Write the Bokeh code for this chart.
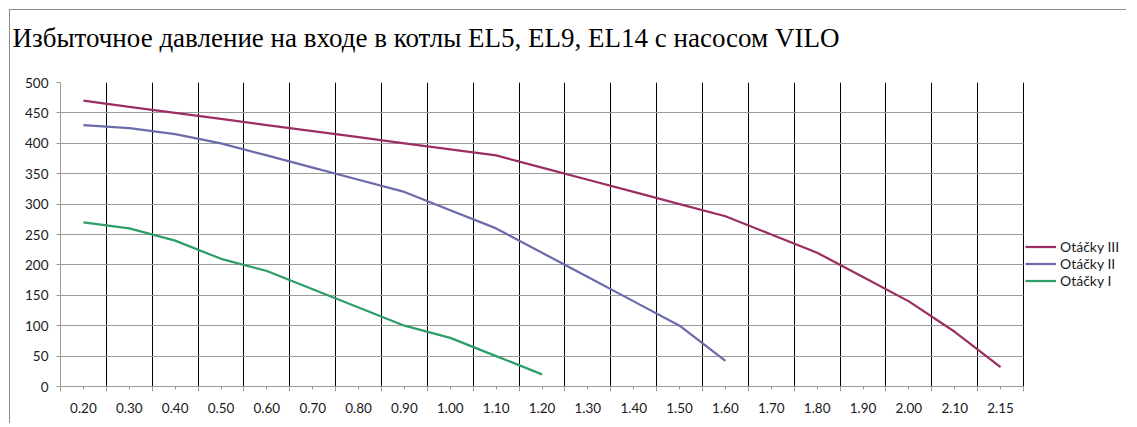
from bokeh.plotting import figure
from bokeh.models import FixedTicker, Range1d, Legend, LegendItem, Grid, Title
from bokeh.embed import file_html
from bokeh.resources import INLINE

# ---- data ----
flow = ["0.20", "0.30", "0.40", "0.50", "0.60", "0.70", "0.80", "0.90", "1.00", "1.10",
        "1.20", "1.30", "1.40", "1.50", "1.60", "1.70", "1.80", "1.90", "2.00", "2.10", "2.15"]
otacky_3 = [470, 460, 450, 440, 430, 420, 410, 400, 390, 380, 360, 340, 320, 300, 280,
            250, 220, 180, 140, 90, 32]
otacky_2 = [430, 425, 415, 400, 380, 360, 340, 320, 290, 260, 220, 180, 140, 100, 42]
otacky_1 = [270, 260, 240, 210, 190, 160, 130, 100, 80, 50, 20]
series_names = ["Otáčky III", "Otáčky II", "Otáčky I"]
series_colors = ["#9B2E63", "#6B6BAC", "#2E9E68"]
y_ticks = [0, 50, 100, 150, 200, 250, 300, 350, 400, 450, 500]
title_text = "Избыточное давление на входе в котлы EL5, EL9, EL14 с насосом VILO"

n = len(flow)
centers = list(range(n))
bounds = [i + 0.5 for i in range(-1, n)]

# plot area of the categories is 963 px wide; the canvas frame continues to the right
# to leave room for the legend, which is drawn inside the frame
FRAME_W = 1067
CAT_W = 963
x_end = -0.5 + n * FRAME_W / CAT_W

p = figure(width=1117, height=414, output_backend="svg", toolbar_location=None,
           x_range=Range1d(-0.5, x_end), y_range=Range1d(0, 500),
           min_border_left=50, min_border_right=0, min_border_top=72, min_border_bottom=38)
p.styles = {"margin-left": "9px", "margin-top": "9px",
            "border-left": "1px solid #8c8c8c", "border-top": "1px solid #8c8c8c"}
p.outline_line_color = None
p.background_fill_color = "white"
p.border_fill_color = "white"

# spacer between the title and the plot area
p.add_layout(Title(text=" ", text_font_size="1px", standoff=27), "above")

p.title.text = title_text
p.title.text_font = "Liberation Serif"
p.title.text_font_size = "27px"
p.title.text_font_style = "normal"
p.title.text_color = "#000000"
p.title.offset = -48
p.title.standoff = 0

# grids
p.xgrid.ticker = FixedTicker(ticks=bounds[1:])
p.xgrid.grid_line_color = "#000000"
p.xgrid.grid_line_width = 1
p.ygrid.ticker = FixedTicker(ticks=y_ticks)
p.ygrid.grid_line_color = "#9a9a9a"
p.ygrid.grid_line_width = 1
if hasattr(Grid, "cross_bounds"):
    p.ygrid.cross_bounds = (-0.5, n - 0.5)

# axes
p.xaxis.bounds = (-0.5, n - 0.5)
p.xaxis.ticker = FixedTicker(ticks=centers, minor_ticks=bounds)
p.xaxis.major_label_overrides = {i: f for i, f in enumerate(flow)}
p.xaxis.major_tick_out = 3
p.xaxis.major_tick_in = 0
p.xaxis.minor_tick_out = 5
p.xaxis.minor_tick_in = 0
p.xaxis.major_label_standoff = 11
for ax in (p.xaxis, p.yaxis):
    ax.axis_line_color = "#9a9a9a"
    ax.major_tick_line_color = "#9a9a9a"
    ax.minor_tick_line_color = "#9a9a9a"
    ax.major_label_text_font = "Lato"
    ax.major_label_text_font_size = "13.5px"
    ax.major_label_text_color = "#1a1a1a"
p.yaxis.ticker = FixedTicker(ticks=y_ticks, minor_ticks=[])
p.yaxis.major_tick_out = 4
p.yaxis.major_tick_in = 0
p.yaxis.major_label_standoff = 8

# lines
r3 = p.line(centers[:len(otacky_3)], otacky_3, line_color=series_colors[0], line_width=2.25)
r2 = p.line(centers[:len(otacky_2)], otacky_2, line_color=series_colors[1], line_width=2.25)
r1 = p.line(centers[:len(otacky_1)], otacky_1, line_color=series_colors[2], line_width=2.25)

legend = Legend(items=[LegendItem(label=series_names[0], renderers=[r3]),
                       LegendItem(label=series_names[1], renderers=[r2]),
                       LegendItem(label=series_names[2], renderers=[r1])],
                location=(965, 97))
legend.label_text_font = "Lato"
legend.label_text_font_size = "14px"
legend.label_text_color = "#1a1a1a"
legend.glyph_width = 31
legend.glyph_height = 17
legend.label_height = 17
legend.label_standoff = 4
legend.spacing = 0
legend.padding = 3
legend.margin = 0
legend.border_line_color = None
legend.background_fill_color = "white"
legend.background_fill_alpha = 1.0
p.add_layout(legend, "center")

open("out.html", "w").write(file_html(p, INLINE))
